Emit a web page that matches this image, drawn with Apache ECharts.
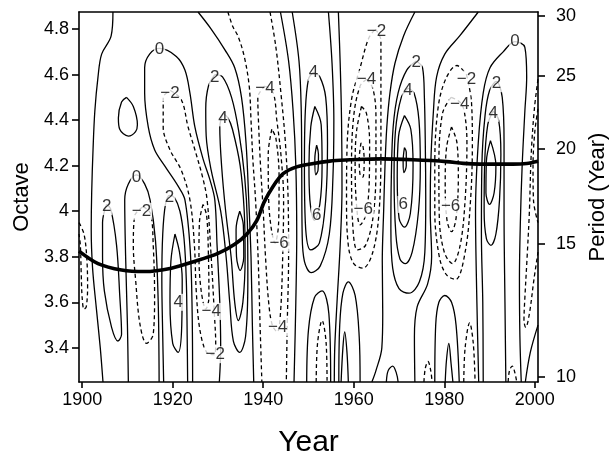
<!DOCTYPE html>
<html>
<head>
<meta charset="utf-8">
<script src="https://cdn.jsdelivr.net/npm/echarts@6/dist/echarts.min.js"></script>
<style>
html, body { margin: 0; padding: 0; background: #fff; }
#main { width: 612px; height: 455px; }
</style>
</head>
<body>
<div id="main"></div>
<script>
// tick labels
var yearTicks = [1900, 1920, 1940, 1960, 1980, 2000];
var octaveTicks = [3.4, 3.6, 3.8, 4, 4.2, 4.4, 4.6, 4.8];
var periodTicks = [10, 15, 20, 25, 30];
var periodScale = 1.0345; // period = scale * 2^octave

// thick ridge line [year, octave]
var ridge = [[1899.3,3.825],[1903.5,3.77],[1908.7,3.742],[1913.8,3.735],[1919.7,3.75],[1924.9,3.78],
  [1930,3.815],[1933.7,3.855],[1936.4,3.9],[1938.6,3.96],[1940.2,4.04],[1942.2,4.11],[1944.4,4.165],
  [1947.4,4.195],[1951.1,4.21],[1954.7,4.22],[1958.4,4.225],[1962.1,4.228],[1966,4.23],[1973.1,4.226],
  [1980.5,4.218],[1984.2,4.21],[1987.9,4.207],[1995.2,4.207],[1998.2,4.21],[2000.7,4.22]];

// contour lines, [year, octave]
var zeroLines = [
  [[1906.8,4.875],[1906.4,4.77],[1904.3,4.69],[1903.5,4.59],[1902.8,4.44],[1902.4,4.27],[1902.1,4.08],[1902.0,3.92],[1902.3,3.75],[1903.1,3.58],[1904.0,3.4],[1904.6,3.25]],
  [[1909.8,4.50],[1908.7,4.48],[1908.0,4.41],[1908.3,4.36],[1910.2,4.33],[1911.8,4.35],[1912.2,4.38],[1911.3,4.46],[1909.8,4.50]],
  [[1924.4,3.25],[1924.3,3.55],[1923.9,3.82],[1922.7,4.05],[1921.2,4.11],[1918.2,4.2],[1916.0,4.27],[1914.6,4.37],[1913.8,4.52],[1913.8,4.63],[1914.9,4.69],[1917.1,4.715],[1920.8,4.68],[1922.7,4.62],[1923.8,4.52],[1924.9,4.37],[1926.7,4.23],[1928.2,4.14],[1929.3,4.05],[1929.8,3.85],[1930.4,3.6],[1930.6,3.4],[1930.3,3.25]],
  [[1910.2,3.25],[1910.0,3.5],[1909.6,3.8],[1909.4,4.05],[1910.2,4.12],[1912.0,4.16],[1913.8,4.12],[1915.0,4.05],[1916.2,3.87],[1916.8,3.6],[1917.0,3.25]],
  [[1925.6,4.875],[1928.5,4.8],[1931.5,4.71],[1933.7,4.63],[1935.2,4.5],[1936.2,4.3],[1936.8,4.05],[1937.3,3.8],[1937.6,3.5],[1937.9,3.25]],
  [[1943.8,4.875],[1945.6,4.66],[1946.6,4.44],[1947.2,4.2],[1947.4,3.9],[1947.2,3.6],[1946.8,3.25]],
  [[1956.6,4.875],[1957.0,4.65],[1957.3,4.4],[1957.4,4.1],[1957.0,3.85],[1956.3,3.6],[1955.8,3.4],[1955.7,3.25]],
  [[1949.6,3.25],[1950.0,3.48],[1951.3,3.62],[1953.0,3.65],[1954.5,3.55],[1954.9,3.25]],
  [[1973.5,4.875],[1971.0,4.77],[1969.1,4.65],[1968.0,4.52],[1967.3,4.37],[1966.9,4.2],[1966.6,4.0],[1966.3,3.78],[1966.4,3.55],[1966.2,3.4],[1964.9,3.3],[1964.0,3.25]],
  [[1987.5,4.875],[1983.4,4.77],[1980.1,4.69],[1978.3,4.59],[1977.6,4.44],[1977.0,4.2],[1976.9,4.0],[1977.2,3.8],[1976.3,3.68],[1974.0,3.58],[1973.4,3.45],[1973.5,3.25]],
  [[1987.6,3.25],[1987.2,3.6],[1986.9,4.0],[1987.5,4.3],[1988.6,4.52],[1990.1,4.63],[1993.0,4.7],[1995.6,4.745],[1997.8,4.72],[1998.2,4.59],[1997.8,4.44],[1997.2,4.2],[1996.8,3.95],[1996.6,3.7],[1996.7,3.45],[1997.0,3.25]]
];
var pos2Lines = [
  [[1905.4,4.03],[1906.3,4.01],[1907.6,3.85],[1908.3,3.63],[1908.7,3.46],[1907.9,3.43],[1906.5,3.49],[1904.9,3.65],[1904.5,3.8],[1904.5,3.95],[1905.4,4.03]],
  [[1918.0,3.25],[1917.8,3.45],[1917.6,3.7],[1917.8,3.9],[1918.4,4.03],[1919.3,4.07],[1920.4,4.06],[1921.6,4.0],[1922.5,3.88],[1923.0,3.7],[1923.2,3.45],[1923.3,3.25]],
  [[1929.3,4.6],[1927.9,4.55],[1927.3,4.45],[1927.4,4.33],[1928.5,4.18],[1930.6,4.0],[1931.8,3.8],[1932.6,3.6],[1933.4,3.43],[1934.8,3.38],[1936.1,3.45],[1936.6,3.7],[1936.5,3.95],[1935.9,4.15],[1934.6,4.35],[1933.0,4.5],[1931.0,4.59],[1929.3,4.6]],
  [[1946.4,4.875],[1947.9,4.66],[1948.4,4.44],[1948.5,4.2],[1948.6,3.9],[1949.1,3.78],[1950.6,3.73],[1952.6,3.76],[1954.6,3.9],[1955.4,4.15],[1955.6,4.4],[1955.2,4.65],[1954.4,4.875]],
  [[1973.8,4.66],[1975.2,4.63],[1975.6,4.5],[1975.8,4.3],[1975.9,4.05],[1975.7,3.82],[1974.5,3.69],[1972.2,3.64],[1970.0,3.66],[1968.6,3.75],[1968.2,3.92],[1968.3,4.15],[1968.7,4.37],[1969.8,4.52],[1971.7,4.62],[1973.8,4.66]],
  [[1988.6,3.25],[1988.5,3.6],[1988.2,3.9],[1988.3,4.2],[1989.0,4.42],[1990.0,4.53],[1991.5,4.57],[1992.8,4.5],[1993.2,4.3],[1993.2,4.0],[1993.4,3.6],[1993.6,3.25]],
  [[1956.7,3.25],[1956.9,3.5],[1957.6,3.64],[1958.8,3.69],[1960.3,3.63],[1961.2,3.45],[1961.4,3.25]],
  [[1977.9,3.25],[1978.1,3.5],[1978.8,3.6],[1980.1,3.63],[1981.6,3.6],[1982.6,3.5],[1983.3,3.25]],
  [[1967.2,3.25],[1967.6,3.3],[1968.6,3.32],[1969.4,3.29],[1969.8,3.25]],
  [[2000.7,3.5],[1999.0,3.38],[1997.9,3.25]]
];
var pos4Lines = [
  [[1920.5,3.9],[1921.5,3.82],[1922.1,3.7],[1922.0,3.5],[1921.2,3.38],[1920.0,3.42],[1919.4,3.6],[1919.6,3.78],[1920.5,3.9]],
  [[1931.1,4.43],[1930.4,4.37],[1930.8,4.2],[1931.7,4.0],[1932.9,3.8],[1933.7,3.6],[1934.5,3.52],[1935.5,3.6],[1936.0,3.8],[1935.8,4.0],[1934.9,4.2],[1933.2,4.36],[1932.2,4.41],[1931.1,4.43]],
  [[1951.1,4.61],[1950.0,4.58],[1949.3,4.44],[1949.1,4.2],[1949.3,3.95],[1950.5,3.83],[1952.4,3.86],[1953.8,4.05],[1954.2,4.3],[1953.8,4.5],[1952.5,4.59],[1951.1,4.61]],
  [[1972.0,4.54],[1970.5,4.5],[1969.2,4.35],[1968.9,4.15],[1969.3,3.9],[1970.2,3.79],[1971.4,3.77],[1972.9,3.82],[1974.3,4.0],[1974.7,4.2],[1974.4,4.4],[1973.3,4.52],[1972.0,4.54]],
  [[1990.8,4.44],[1989.6,4.38],[1988.9,4.2],[1988.8,4.0],[1989.3,3.88],[1990.3,3.85],[1991.4,3.9],[1992.2,4.05],[1992.5,4.25],[1992.0,4.4],[1990.8,4.44]],
  [[1957.2,3.25],[1957.6,3.4],[1958.0,3.47],[1958.5,3.38],[1958.8,3.25]],
  [[1980.2,3.25],[1980.5,3.35],[1981.0,3.42],[1981.5,3.33],[1981.9,3.25]]
];
var pos6Lines = [
  [[1934.8,4.0],[1934.0,3.92],[1934.1,3.8],[1934.9,3.74],[1935.7,3.8],[1935.6,3.94],[1934.8,4.0]],
  [[1951.4,4.46],[1950.5,4.37],[1950.1,4.2],[1950.3,4.05],[1951.3,3.96],[1952.5,4.03],[1953.0,4.2],[1952.8,4.38],[1951.4,4.46]],
  [[1971.2,4.42],[1969.9,4.33],[1969.6,4.15],[1970.0,3.97],[1971.2,3.93],[1972.5,3.99],[1973.1,4.2],[1972.6,4.36],[1971.2,4.42]],
  [[1990.2,4.31],[1989.3,4.22],[1989.2,4.08],[1990.0,4.03],[1991.0,4.08],[1991.4,4.2],[1990.2,4.31]]
];
var pos8Lines = [
  [[1951.8,4.29],[1951.4,4.23],[1951.6,4.16],[1952.1,4.18],[1952.2,4.25],[1951.8,4.29]],
  [[1971.2,4.28],[1970.9,4.22],[1971.1,4.17],[1971.6,4.2],[1971.6,4.26],[1971.2,4.28]]
];
var neg2Lines = [
  [[1899.3,3.95],[1900.4,3.9],[1901.0,3.8],[1901.2,3.67],[1900.9,3.58],[1900.4,3.57],[1900.0,3.62],[1899.8,3.72],[1899.6,3.85],[1899.3,3.9]],
  [[1913.5,4.02],[1915.1,3.99],[1915.7,3.85],[1916.0,3.63],[1915.7,3.46],[1914.2,3.42],[1912.8,3.5],[1911.8,3.7],[1911.3,3.85],[1911.6,3.98],[1913.5,4.02]],
  [[1919.5,4.53],[1921.9,4.49],[1923.4,4.37],[1924.9,4.27],[1926.6,4.15],[1927.6,4.05],[1928.5,3.8],[1929.2,3.55],[1929.5,3.42],[1929.2,3.37],[1927.5,3.38],[1926.0,3.48],[1925.2,3.65],[1924.8,3.85],[1923.8,4.05],[1921.9,4.18],[1919.4,4.27],[1917.9,4.37],[1917.9,4.5],[1919.5,4.53]],
  [[1932.2,4.875],[1933.3,4.81],[1934.4,4.77],[1935.8,4.68],[1936.9,4.55],[1937.3,4.4],[1937.7,4.23],[1938.3,4.05],[1938.9,3.78],[1939.3,3.5],[1939.7,3.25]],
  [[1941.5,4.875],[1942.8,4.72],[1944.0,4.5],[1944.9,4.3],[1945.5,4.05],[1945.6,3.8],[1945.3,3.5],[1945.1,3.25]],
  [[1964.8,4.80],[1966.0,4.75],[1966.0,4.6],[1966.0,4.3],[1965.6,4.0],[1964.2,3.82],[1962.0,3.75],[1960.0,3.77],[1958.8,3.85],[1958.4,4.05],[1958.5,4.27],[1959.5,4.49],[1961.4,4.63],[1963.3,4.76],[1964.8,4.80]],
  [[1984.9,4.6],[1986.0,4.48],[1986.2,4.3],[1985.8,4.05],[1984.6,3.82],[1982.5,3.7],[1980.5,3.72],[1978.9,3.8],[1977.9,4.0],[1977.9,4.2],[1978.6,4.45],[1980.3,4.58],[1982.8,4.64],[1984.9,4.6]],
  [[2000.7,4.58],[1999.9,4.45],[1999.2,4.25],[1998.8,4.0],[1998.3,3.8],[1997.8,3.62],[1997.6,3.52],[1998.0,3.49],[1998.8,3.55],[1999.8,3.7],[2000.7,3.82]],
  [[1951.7,3.25],[1952.0,3.42],[1953.0,3.52],[1953.9,3.42],[1954.1,3.25]],
  [[1984.3,3.25],[1984.6,3.4],[1985.6,3.51],[1986.4,3.42],[1986.8,3.25]],
  [[1975.5,3.25],[1975.8,3.31],[1976.4,3.34],[1977.0,3.3],[1977.3,3.25]],
  [[1994.1,3.25],[1994.4,3.3],[1995.0,3.32],[1995.6,3.29],[1996.0,3.25]]
];
var neg4Lines = [
  [[1926.7,4.03],[1925.9,3.95],[1925.8,3.8],[1926.3,3.65],[1927.3,3.57],[1928.0,3.62],[1927.9,3.8],[1927.5,3.98],[1926.7,4.03]],
  [[1940.4,4.55],[1938.8,4.5],[1939.0,4.37],[1939.4,4.2],[1940.0,4.0],[1940.5,3.8],[1941.2,3.6],[1942.0,3.5],[1943.1,3.47],[1943.8,3.55],[1944.3,3.8],[1944.5,4.05],[1943.9,4.25],[1943.0,4.4],[1942.2,4.52],[1940.4,4.55]],
  [[1962.8,4.58],[1961.4,4.55],[1960.0,4.42],[1959.5,4.2],[1959.7,3.97],[1960.8,3.83],[1962.6,3.85],[1964.3,3.98],[1964.9,4.2],[1964.9,4.42],[1964.2,4.54],[1962.8,4.58]],
  [[1981.5,4.5],[1979.6,4.43],[1978.8,4.2],[1978.9,3.97],[1980.0,3.82],[1981.8,3.77],[1983.5,3.85],[1984.6,4.05],[1985.0,4.3],[1984.4,4.44],[1983.4,4.48],[1981.5,4.5]],
  [[2000.7,4.45],[2000.0,4.35],[1999.6,4.2],[1999.7,4.05],[2000.7,3.95]]
];
var neg6Lines = [
  [[1941.9,4.36],[1941.1,4.25],[1941.2,4.05],[1941.8,3.92],[1942.6,3.86],[1943.4,3.95],[1943.5,4.15],[1942.8,4.32],[1941.9,4.36]],
  [[1961.7,4.46],[1960.6,4.35],[1960.3,4.2],[1960.6,4.03],[1961.4,3.94],[1962.6,3.98],[1963.4,4.12],[1963.5,4.3],[1962.8,4.43],[1961.7,4.46]],
  [[1981.6,4.37],[1980.5,4.28],[1980.2,4.12],[1980.6,3.96],[1981.6,3.91],[1982.6,3.97],[1983.1,4.15],[1982.8,4.3],[1981.6,4.37]]
];
var neg8Lines = [
  [[1961.6,4.30],[1961.2,4.23],[1961.4,4.16],[1962.0,4.15],[1962.3,4.22],[1962.0,4.29],[1961.6,4.30]]
];

// contour labels [year, octave, text]
var contourLabels = [
  [1917.1,4.71,'0'], [1919.4,4.52,'−2'], [1929.3,4.59,'2'], [1931.1,4.41,'4'],
  [1912.0,4.15,'0'], [1905.4,4.02,'2'], [1913.1,4.0,'−2'], [1919.3,4.06,'2'],
  [1921.2,3.6,'4'], [1928.5,3.56,'−4'], [1929.4,3.37,'−2'],
  [1940.4,4.54,'−4'], [1943.5,3.86,'−6'], [1943.2,3.49,'−4'],
  [1951.1,4.61,'4'], [1951.8,3.98,'6'],
  [1965.0,4.79,'−2'], [1962.8,4.58,'−4'], [1962.1,4.01,'−6'],
  [1973.8,4.655,'2'], [1972.0,4.53,'4'], [1970.9,4.03,'6'],
  [1984.9,4.58,'−2'], [1983.4,4.47,'−4'], [1981.4,4.02,'−6'],
  [1995.6,4.745,'0'], [1991.5,4.56,'2'], [1990.8,4.43,'4']
];

var font = 'Liberation Sans';
var periodPos = periodTicks.map(function (p) { return Math.log2(p / periodScale); });

var series = [];
function addContours(lines, dashed) {
  lines.forEach(function (pts) {
    series.push({
      type: 'line',
      data: pts,
      smooth: 0.35,
      symbol: 'none',
      silent: true,
      z: 2,
      lineStyle: { color: '#000', width: 1.3, type: dashed ? [4, 3] : 'solid' }
    });
  });
}
addContours(zeroLines, false);
addContours(pos2Lines, false);
addContours(pos4Lines, false);
addContours(pos6Lines, false);
addContours(pos8Lines, false);
addContours(neg2Lines, true);
addContours(neg4Lines, true);
addContours(neg6Lines, true);
addContours(neg8Lines, true);

series.push({
  type: 'line',
  data: ridge,
  smooth: 0.3,
  symbol: 'none',
  silent: true,
  z: 5,
  lineStyle: { color: '#000', width: 3.6 }
});

series.push({
  type: 'scatter',
  data: contourLabels.map(function (l) { return { name: l[2], value: [l[0], l[1]] }; }),
  symbolSize: 0,
  silent: true,
  z: 10,
  label: {
    show: true,
    position: 'inside',
    formatter: '{b}',
    fontSize: 17,
    fontFamily: font,
    color: '#000',
    backgroundColor: '#fff',
    padding: [0, 1]
  }
});

var axisLineStyle = { color: '#000', width: 1.6 };

var chart = echarts.init(document.getElementById('main'));
chart.setOption({
  animation: false,
  backgroundColor: '#fff',
  grid: { left: 79, right: 74, top: 12, bottom: 73, outerBoundsMode: 'none' },
  xAxis: [{
    type: 'value',
    position: 'bottom',
    min: 1899.3,
    max: 2000.7,
    name: 'Year',
    nameLocation: 'middle',
    nameGap: 46,
    nameTextStyle: { fontSize: 30, fontFamily: font, color: '#000' },
    axisLine: { show: true, lineStyle: axisLineStyle },
    axisTick: { show: true, customValues: yearTicks, length: 6, lineStyle: axisLineStyle },
    axisLabel: {
      customValues: yearTicks, fontSize: 18, fontFamily: font, color: '#000', margin: 9,
      formatter: function (v) { return String(v); }
    },
    splitLine: { show: false }
  }, {
    type: 'value',
    position: 'top',
    min: 1899.3,
    max: 2000.7,
    axisLine: { show: true, lineStyle: axisLineStyle },
    axisTick: { show: false },
    axisLabel: { show: false },
    splitLine: { show: false }
  }],
  yAxis: [{
    type: 'value',
    position: 'left',
    min: 3.25,
    max: 4.875,
    name: 'Octave',
    nameLocation: 'middle',
    nameRotate: 90,
    nameGap: 44,
    nameTextStyle: { fontSize: 22, fontFamily: font, color: '#000' },
    axisLine: { show: true, lineStyle: axisLineStyle },
    axisTick: { show: true, customValues: octaveTicks, length: 7, lineStyle: axisLineStyle },
    axisLabel: {
      customValues: octaveTicks, fontSize: 18, fontFamily: font, color: '#000', margin: 10,
      formatter: function (v) { return String(v); }
    },
    splitLine: { show: false }
  }, {
    type: 'value',
    position: 'right',
    min: 3.25,
    max: 4.875,
    name: 'Period (Year)',
    nameLocation: 'middle',
    nameRotate: 90,
    nameGap: 46,
    nameTextStyle: { fontSize: 22, fontFamily: font, color: '#000' },
    axisLine: { show: true, lineStyle: axisLineStyle },
    axisTick: { show: true, customValues: periodPos, length: 7, lineStyle: axisLineStyle },
    axisLabel: {
      customValues: periodPos, fontSize: 18, fontFamily: font, color: '#000', margin: 18,
      formatter: function (v) { return String(Math.round(periodScale * Math.pow(2, v))); }
    },
    splitLine: { show: false }
  }],
  series: series
});
</script>
</body>
</html>
